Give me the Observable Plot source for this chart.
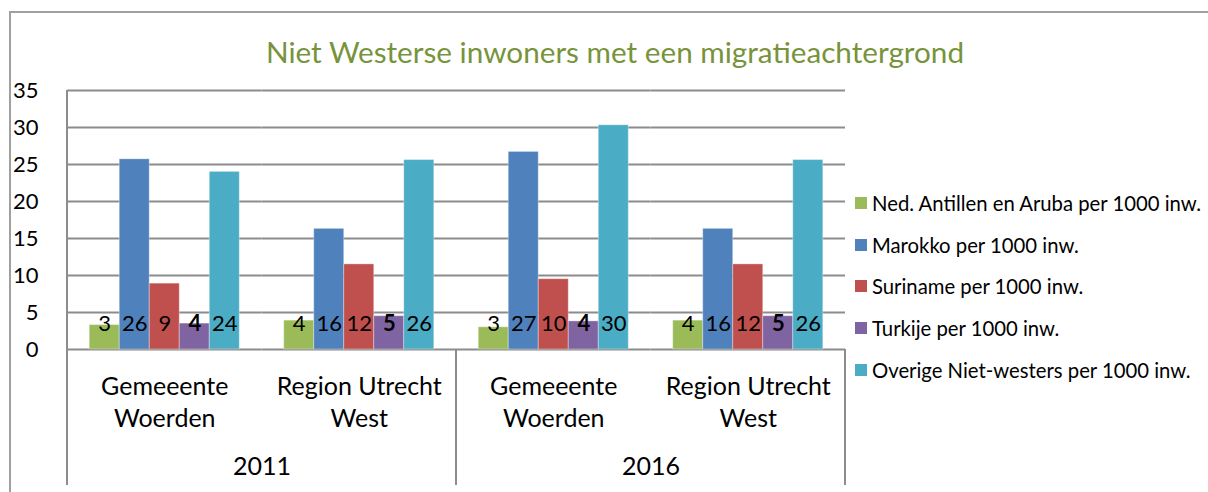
<!DOCTYPE html>
<html>
<head>
<meta charset="utf-8">
<script src="https://cdn.jsdelivr.net/npm/d3@7"></script>
<script src="https://cdn.jsdelivr.net/npm/@observablehq/plot@0.6"></script>
<style>
  html, body { margin: 0; padding: 0; background: #fff; overflow: hidden; }
  #wrap { position: relative; width: 1208px; height: 492px; overflow: hidden; font-family: Lato, "Open Sans", sans-serif; }
  #bl { position: absolute; left: 9px; top: 11px; width: 2px; height: 481px; background: #a0a0a0; }
  #bt { position: absolute; left: 9px; top: 11px; width: 1199px; height: 2px; background: #a0a0a0; }
  #title { position: absolute; left: 115px; width: 1000px; top: 34px; text-align: center; font-size: 29.7px; line-height: 36px; color: #77933C; white-space: nowrap; }
  #legend { position: absolute; left: 855px; top: 182px; }
  .item { display: flex; align-items: center; height: 41.7px; font-size: 20.3px; color: #000; white-space: nowrap; }
  .sw { width: 12px; height: 12px; margin-right: 5px; flex: none; }
  #chart { position: absolute; left: 0; top: 0; }
</style>
</head>
<body>
<div id="wrap">
  <div id="bl"></div>
  <div id="bt"></div>
  <div id="chart"></div>
  <div id="title"></div>
  <div id="legend"></div>
</div>
<script>
// ---- data ----
const title = "Niet Westerse inwoners met een migratieachtergrond";
const groups = ["2011|Woerden", "2011|Utrecht West", "2016|Woerden", "2016|Utrecht West"];
const groupLabels = ["Gemeeente\nWoerden", "Region Utrecht\nWest", "Gemeeente\nWoerden", "Region Utrecht\nWest"];
const years = ["2011", "2016"];
const yearFirstGroup = ["2011|Woerden", "2016|Woerden"];
const series = [
  "Ned. Antillen en Aruba per 1000 inw.",
  "Marokko per 1000 inw.",
  "Suriname per 1000 inw.",
  "Turkije per 1000 inw.",
  "Overige Niet-westers per 1000 inw."
];
const colors = ["#9BBB59", "#4F81BD", "#C0504D", "#8064A2", "#4BACC6"];
const antillen = [3.3, 3.9, 3.0, 3.9];
const marokko = [25.7, 16.3, 26.7, 16.3];
const suriname = [8.9, 11.5, 9.5, 11.5];
const turkije = [3.5, 4.5, 3.8, 4.5];
const overige = [24.0, 25.6, 30.3, 25.6];
const antillenLbl = [3, 4, 3, 4];
const marokkoLbl = [26, 16, 27, 16];
const surinameLbl = [9, 12, 10, 12];
const turkijeLbl = [4, 5, 4, 5];
const overigeLbl = [24, 26, 30, 26];
const yTicks = [0, 5, 10, 15, 20, 25, 30, 35];

// ---- build table ----
const valueArrays = [antillen, marokko, suriname, turkije, overige];
const labelArrays = [antillenLbl, marokkoLbl, surinameLbl, turkijeLbl, overigeLbl];
const data = [];
groups.forEach((g, gi) => {
  series.forEach((s, si) => {
    data.push({group: g, series: s, value: valueArrays[si][gi], label: String(labelArrays[si][gi]), bold: si === 3});
  });
});
const catData = groups.map((g, i) => ({group: g, label: groupLabels[i]}));
const yearData = years.map((y, i) => ({group: yearFirstGroup[i], year: y}));

const gridColor = "#8c8c8c";

const plot = Plot.plot({
  width: 1208,
  height: 492,
  marginLeft: 67,
  marginRight: 363,
  marginTop: 90,
  marginBottom: 143,
  style: {fontFamily: "Lato, 'Open Sans', sans-serif", background: "transparent", overflow: "visible"},
  fx: {domain: groups, padding: 0, round: false, axis: null},
  x: {domain: series, paddingInner: 0, paddingOuter: 0.74, round: false, axis: null},
  y: {domain: [0, 35], axis: null},
  color: {domain: series, range: colors},
  marks: [
    Plot.gridY(yTicks, {stroke: gridColor, strokeOpacity: 1, strokeWidth: 2}),
    Plot.axisY(yTicks, {tickSize: 0, tickPadding: 29, fontSize: 22, fill: "#000", label: null, tickFormat: d => String(d)}),
    Plot.barY(data, {fx: "group", x: "series", y: "value", fill: "series", stroke: "#fff", strokeOpacity: 0.35, strokeWidth: 1}),
    Plot.text(data, {filter: d => !d.bold, fx: "group", x: "series", y: 0, text: "label", dy: -26, fontSize: 22, fill: "#000"}),
    Plot.text(data, {filter: d => d.bold, fx: "group", x: "series", y: 0, text: "label", dy: -26, fontSize: 22, fontWeight: "bold", fill: "#000"}),
    Plot.text(catData, {fx: "group", text: "label", frameAnchor: "bottom", dy: 51, lineAnchor: "middle", lineHeight: 1.28, fontSize: 25, fill: "#000"}),
    Plot.text(yearData, {fx: "group", text: "year", frameAnchor: "bottom-right", textAnchor: "middle", dy: 125, fontSize: 25, fill: "#000"})
  ]
});

document.getElementById("chart").appendChild(plot);

// axis / category separator lines derived from the plot's scales
const fx = plot.scale("fx");
const ys = plot.scale("y");
const svg = d3.select(plot.tagName.toLowerCase() === "svg" ? plot : plot.querySelector("svg"));
const y0 = ys.apply(0), yTop = ys.apply(35);
const bw = fx.bandwidth;
const left = fx.apply(groups[0]);
const mid = fx.apply(groups[2]);
const right = fx.apply(groups[3]) + bw;
const sepBottom = y0 + 136;
const g = svg.append("g").attr("stroke", gridColor).attr("stroke-width", 2);
g.append("line").attr("x1", left).attr("x2", left).attr("y1", yTop).attr("y2", sepBottom);
g.append("line").attr("x1", mid).attr("x2", mid).attr("y1", y0).attr("y2", sepBottom);
g.append("line").attr("x1", right).attr("x2", right).attr("y1", y0).attr("y2", sepBottom);

// title and legend
document.getElementById("title").textContent = title;
const leg = d3.select("#legend");
series.forEach((s, i) => {
  const it = leg.append("div").attr("class", "item");
  it.append("div").attr("class", "sw").style("background", colors[i]);
  it.append("span").text(s);
});
</script>
</body>
</html>
